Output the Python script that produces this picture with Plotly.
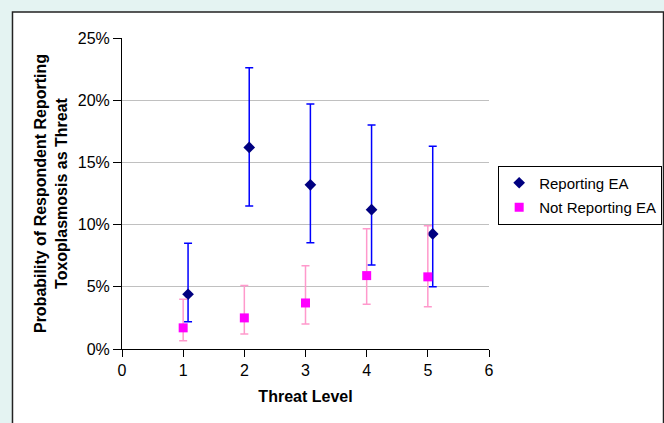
import plotly.graph_objects as go

threat_reporting = [1.08, 2.08, 3.08, 4.08, 5.08]
p_reporting = [0.044, 0.162, 0.132, 0.112, 0.0925]
up_reporting = [0.085, 0.226, 0.197, 0.180, 0.163]
lo_reporting = [0.022, 0.115, 0.0855, 0.0675, 0.050]

threat_not = [1, 2, 3, 4, 5]
p_not = [0.017, 0.025, 0.037, 0.059, 0.058]
up_not = [0.040, 0.051, 0.067, 0.0967, 0.099]
lo_not = [0.0067, 0.012, 0.020, 0.036, 0.034]

x_ticks = [0, 1, 2, 3, 4, 5, 6]
y_ticks = [0, 0.05, 0.10, 0.15, 0.20, 0.25]
y_labels = ["0%", "5%", "10%", "15%", "20%", "25%"]

fig = go.Figure()
fig.add_trace(go.Scatter(
    x=threat_reporting, y=p_reporting, mode="markers", name="Reporting EA",
    legendgroup="a",
    marker=dict(symbol="diamond", size=9, color="#000080"),
    error_y=dict(type="data", symmetric=False,
                 array=[u - p for u, p in zip(up_reporting, p_reporting)],
                 arrayminus=[p - l for p, l in zip(p_reporting, lo_reporting)],
                 color="#0000FF", thickness=1.5, width=4),
))
fig.add_trace(go.Scatter(
    x=threat_not, y=p_not, mode="markers", name="Not Reporting EA",
    legendgroup="b",
    marker=dict(symbol="square", size=9, color="#FF00FF"),
    error_y=dict(type="data", symmetric=False,
                 array=[u - p for u, p in zip(up_not, p_not)],
                 arrayminus=[p - l for p, l in zip(p_not, lo_not)],
                 color="#FF99CC", thickness=1.5, width=4),
))

font_family = "Liberation Sans, Arial, sans-serif"

fig.update_layout(
    width=664, height=423,
    margin=dict(l=122, r=175, t=38, b=74, autoexpand=False),
    paper_bgcolor="#E4F3F2",
    plot_bgcolor="rgba(0,0,0,0)",
    font=dict(family=font_family, size=16, color="black"),
    showlegend=True,
    legend=dict(x=1.025, y=0.59, xanchor="left", yanchor="top",
                bordercolor="black", borderwidth=1, bgcolor="white",
                font=dict(size=15, color="black"),
                traceorder="grouped", tracegroupgap=2),
    xaxis=dict(range=[0, 6], tickmode="array", tickvals=x_ticks,
               showgrid=False, showline=True, linecolor="black", linewidth=1,
               ticks="outside", ticklen=7, tickcolor="black",
               zeroline=False, automargin=False,
               title=dict(text="<b>Threat Level</b>", font=dict(size=16), standoff=12)),
    yaxis=dict(range=[0, 0.25], tickmode="array", tickvals=y_ticks, ticktext=y_labels,
               showgrid=True, gridcolor="#C0C0C0", gridwidth=1,
               showline=True, linecolor="black", linewidth=1,
               ticks="outside", ticklen=8, tickcolor="black",
               zeroline=False, automargin=False,
               title=dict(text="<b>Probability of Respondent Reporting<br>Toxoplasmosis as Threat</b>",
                          font=dict(size=16), standoff=6)),
    shapes=[
        dict(type="rect", xref="paper", yref="paper", layer="below",
             x0=-0.2984, x1=1.4755, y0=-0.30, y1=1.0836,
             fillcolor="white", line=dict(color="#222222", width=1.5)),
    ],
)

fig.write_html("out.html",
               config={"displayModeBar": False},
               post_script="document.body.style.margin='0';document.body.style.overflow='hidden';")
